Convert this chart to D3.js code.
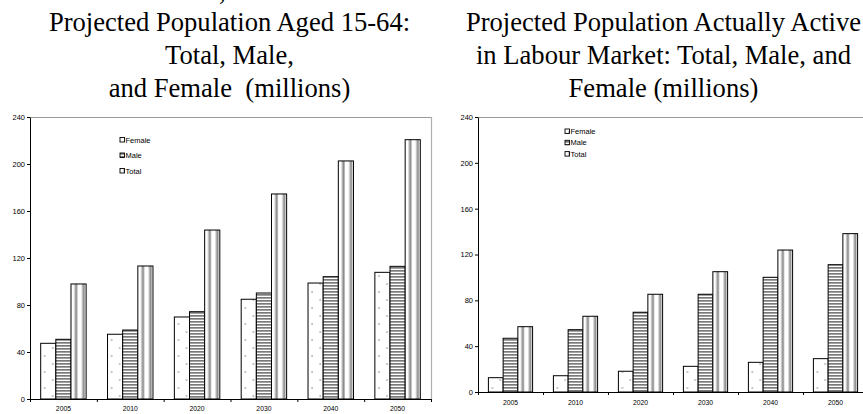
<!DOCTYPE html>
<html><head><meta charset="utf-8">
<script src="https://cdn.jsdelivr.net/npm/d3@7"></script>
<style>
html,body{margin:0;padding:0;background:#fff;overflow:hidden;}
svg{display:block;}
.title{font-family:"Liberation Serif","Times New Roman",serif;font-size:26.6px;fill:#000;white-space:pre;}
.tick text{font-family:"Liberation Sans",Arial,sans-serif;}
.leg{font-family:"Liberation Sans",Arial,sans-serif;font-size:7.5px;fill:#000;}
</style></head>
<body>
<script>
// ---- data ----
const years = ["2005","2010","2020","2030","2040","2050"];
const seriesNames = ["Female","Male","Total"];
const yTicks = [0,40,80,120,160,200,240];

const popFemale = [47.4, 55.1, 69.8, 84.9, 98.7, 107.8];
const popMale   = [50.8, 58.7, 74.3, 90.2, 104.1, 112.9];
const popTotal  = [97.9, 113.2, 143.8, 174.5, 202.6, 220.7];

const actFemale = [12.5, 14.2, 18.1, 22.4, 25.9, 29.1];
const actMale   = [46.9, 54.4, 69.6, 85.3, 100.1, 111.1];
const actTotal  = [57.0, 66.1, 85.3, 105.0, 123.9, 138.2];

const titleLeft = ["Projected Population Aged 15-64:", "Total, Male,", "and Female  (millions)"];
const titleRight = ["Projected Population Actually Active", "in Labour Market: Total, Male, and", "Female (millions)"];

const W = 863, H = 414;
const svg = d3.select("body").append("svg").attr("width", W).attr("height", H);

// ---- patterns ----
const defs = svg.append("defs");
function patterns(id, bw){
  const f = defs.append("pattern").attr("id", id+"F").attr("patternUnits","userSpaceOnUse")
    .attr("width",16).attr("height",16);
  f.append("rect").attr("width",16).attr("height",16).attr("fill","#fff");
  f.append("circle").attr("cx",bw*0.27).attr("cy",4).attr("r",0.75).attr("fill","#777");
  f.append("circle").attr("cx",bw*0.8).attr("cy",12).attr("r",0.75).attr("fill","#777");
  const m = defs.append("pattern").attr("id", id+"M").attr("patternUnits","userSpaceOnUse")
    .attr("width",4).attr("height",3);
  m.append("rect").attr("width",4).attr("height",3).attr("fill","#fff");
  m.append("rect").attr("y",0).attr("width",4).attr("height",1.7).attr("fill","#7a7a7a");
  const tw = bw/2;
  const t = defs.append("pattern").attr("id", id+"T").attr("patternUnits","userSpaceOnUse")
    .attr("width",tw).attr("height",4);
  t.append("rect").attr("width",tw).attr("height",4).attr("fill","#fff");
  t.append("rect").attr("x",tw*0.42).attr("width",tw*0.14).attr("height",4).attr("fill","#c8c8c8");
  t.append("rect").attr("x",tw*0.55).attr("width",tw*0.28).attr("height",4).attr("fill","#8c8c8c");
}

function chart(opt){
  const g = svg.append("g");
  const x = d3.scaleBand().domain(years).range([opt.x0, opt.x1]).padding(0);
  const xi = d3.scaleBand().domain(seriesNames).range([x.bandwidth()*0.16, x.bandwidth()*0.84]).padding(0);
  const y = d3.scaleLinear().domain([0,240]).range([opt.yB, opt.yT]);
  const bw = xi.bandwidth();
  patterns(opt.id, bw);
  const fills = {Female:"url(#"+opt.id+"F)", Male:"url(#"+opt.id+"M)", Total:"url(#"+opt.id+"T)"};

  // frame (top + right)
  g.append("line").attr("x1",opt.x0).attr("x2",opt.x1).attr("y1",opt.yT+0.5).attr("y2",opt.yT+0.5)
    .attr("stroke","#9a9a9a").attr("stroke-width",1.2);
  g.append("line").attr("x1",opt.x1+0.5).attr("x2",opt.x1+0.5).attr("y1",opt.yT).attr("y2",opt.yB)
    .attr("stroke","#b0b0b0").attr("stroke-width",1.2);

  // bars
  const data = [];
  years.forEach((yr,i)=>{
    seriesNames.forEach((s,j)=>{ data.push({yr, s, v: opt.values[j][i]}); });
  });
  const bars = g.append("g").selectAll("g").data(data).join("g")
    .attr("transform", d => `translate(${x(d.yr)+xi(d.s)},0)`);
  bars.append("rect")
    .attr("x",0).attr("y", d=>y(d.v)).attr("width", bw).attr("height", d=>y(0)-y(d.v))
    .attr("fill", d=>fills[d.s]).attr("stroke","#000").attr("stroke-width",1);

  // y axis
  const ya = g.append("g").attr("transform",`translate(${opt.x0},0)`)
    .call(d3.axisLeft(y).tickValues(yTicks).tickSize(3).tickPadding(2).tickSizeOuter(0));
  ya.selectAll("text").attr("font-size",7.5);
  ya.select(".domain").attr("stroke","#000");

  // x axis
  const xa = g.append("g").attr("transform",`translate(0,${opt.yB})`)
    .call(d3.axisBottom(x).tickSize(0).tickPadding(opt.xPad));
  xa.selectAll("text").attr("font-size",6.8);
  xa.select(".domain").attr("stroke","#000");
  const bnd = d3.range(years.length+1).map(i => opt.x0 + i*x.bandwidth());
  xa.selectAll(".bt").data(bnd).join("line").attr("class","bt")
    .attr("x1",d=>d+0.5).attr("x2",d=>d+0.5).attr("y1",0).attr("y2",3).attr("stroke","#000");

  // legend
  const lg = g.append("g");
  seriesNames.forEach((s,i)=>{
    const yy = opt.legY + i*opt.legDy;
    lg.append("g").attr("transform",`translate(${opt.legX},0)`)
      .append("rect").attr("x",0).attr("y",yy-2.5).attr("width",4.5).attr("height",4.5)
      .attr("fill",fills[s]).attr("stroke","#000").attr("stroke-width",0.9);
    lg.append("text").attr("class","leg").attr("x",opt.legX+5.5).attr("y",yy+2.6).text(s);
  });

  // title
  const tt = g.append("text").attr("class","title").attr("text-anchor","middle");
  opt.title.forEach((line,i)=>{
    tt.append("tspan").attr("x",opt.tx).attr("y",31 + i*33).text(line);
  });
}

// remnant of a preceding title line cut off at the top edge
svg.append("text").attr("class","title").attr("x",219).attr("y",-0.5).text(",");

chart({id:"L", x0:30, x1:431, yT:117, yB:399, values:[popFemale,popMale,popTotal],
       legX:120, legY:140, legDy:15.5, title:titleLeft, tx:229.5, xPad:7});
chart({id:"R", x0:478, x1:868, yT:117, yB:392, values:[actFemale,actMale,actTotal],
       legX:565, legY:131.5, legDy:11.3, title:titleRight, tx:663.5, xPad:8});
</script>
</body></html>
